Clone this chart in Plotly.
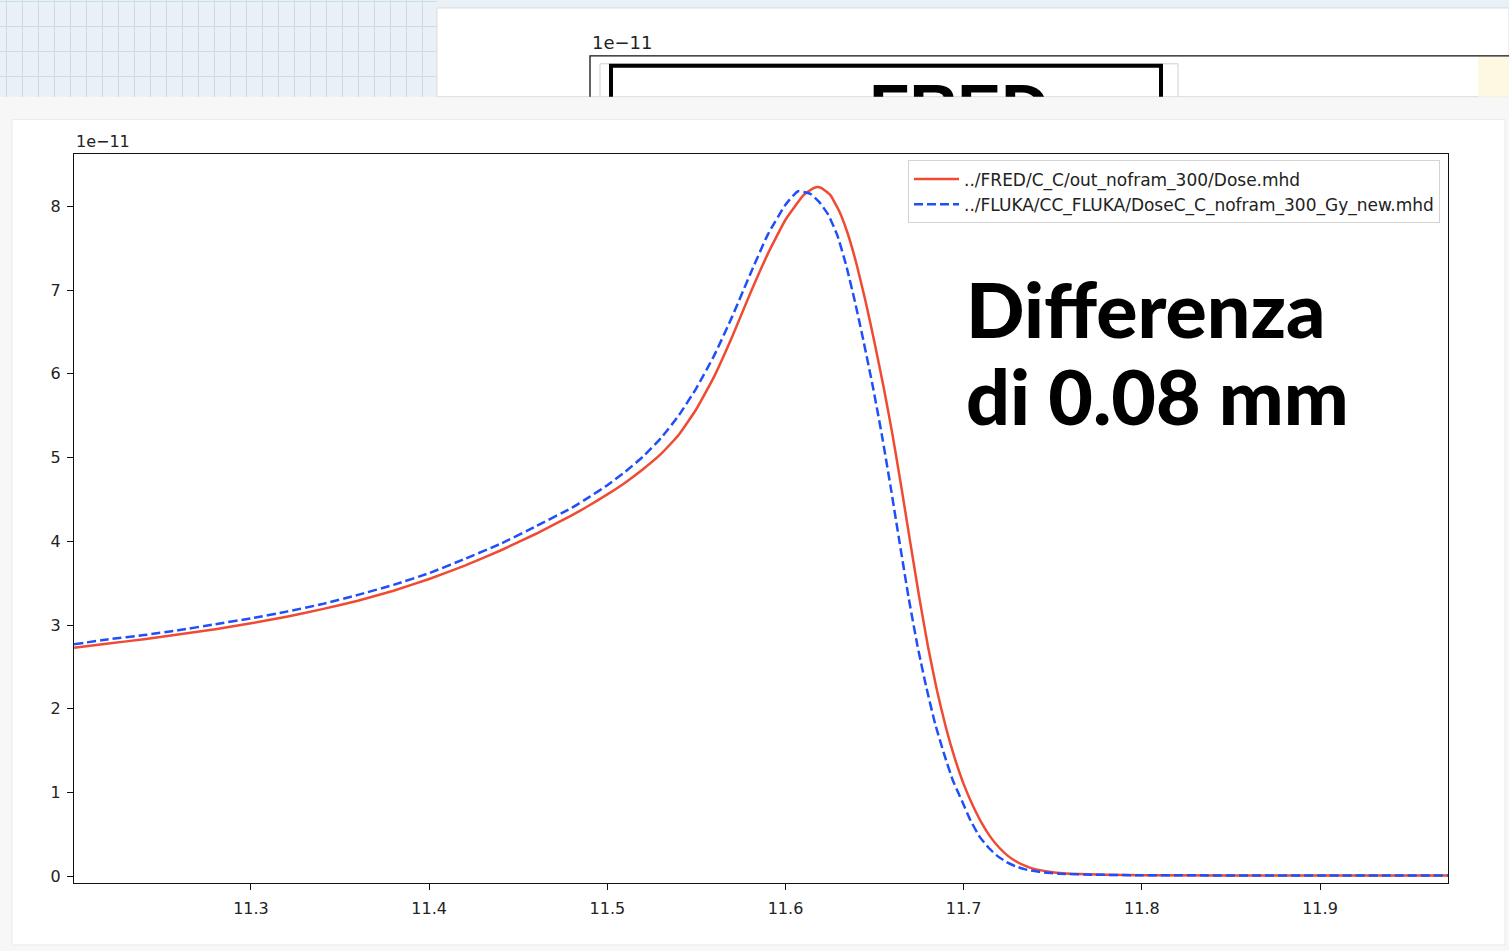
import plotly.graph_objects as go

W, H = 1509, 951

# ---------------- data ----------------
x_fred = [11.2007, 11.22, 11.24, 11.26, 11.28, 11.30, 11.32, 11.34, 11.36, 11.38,
          11.40, 11.42, 11.44, 11.46, 11.48,
          11.49, 11.50, 11.51, 11.52, 11.53, 11.54, 11.55, 11.56, 11.57, 11.58,
          11.59, 11.60, 11.61,
          11.615, 11.618, 11.62,
          11.625, 11.63, 11.635, 11.64, 11.645, 11.65, 11.655, 11.66, 11.665, 11.67,
          11.675, 11.68, 11.685, 11.69, 11.695, 11.70, 11.705, 11.71, 11.715, 11.72,
          11.725, 11.73, 11.735, 11.74,
          11.75, 11.76, 11.78, 11.80, 11.90, 11.9718]
y_fred = [2.73, 2.78, 2.83, 2.89, 2.95, 3.02, 3.10, 3.19, 3.29, 3.41,
          3.55, 3.71, 3.89, 4.09, 4.31,
          4.43, 4.56, 4.70, 4.86, 5.04, 5.27, 5.58, 5.97, 6.44, 6.95,
          7.43, 7.84, 8.13,
          8.21, 8.23, 8.22,
          8.14, 7.95, 7.67, 7.30, 6.86, 6.37, 5.85, 5.28, 4.65, 3.99,
          3.34, 2.74, 2.22, 1.78, 1.41, 1.10, 0.85, 0.64, 0.47, 0.34,
          0.24, 0.17, 0.12, 0.085,
          0.048, 0.030, 0.018, 0.012, 0.008, 0.008]

x_fluka = [11.2007, 11.22, 11.24, 11.26, 11.28, 11.30, 11.32, 11.34, 11.36, 11.38,
           11.40, 11.42, 11.44, 11.46, 11.48,
           11.49, 11.50, 11.51, 11.52, 11.53, 11.54, 11.55, 11.56, 11.57, 11.58,
           11.59, 11.60,
           11.607, 11.614, 11.619,
           11.624, 11.629, 11.634, 11.639, 11.644, 11.649, 11.654, 11.659, 11.664,
           11.669, 11.674, 11.679, 11.684, 11.689, 11.694, 11.699, 11.704, 11.709,
           11.714, 11.719, 11.724, 11.729, 11.734,
           11.744, 11.754, 11.774, 11.80, 11.90, 11.9718]
y_fluka = [2.77, 2.83, 2.88, 2.94, 3.01, 3.08, 3.16, 3.25, 3.36, 3.48,
           3.62, 3.79, 3.97, 4.18, 4.40,
           4.53, 4.67, 4.83, 5.01, 5.23, 5.50, 5.83, 6.22, 6.68, 7.18,
           7.66, 8.02,
           8.18, 8.15, 8.05,
           7.90, 7.66, 7.30, 6.86, 6.37, 5.85, 5.28, 4.65, 3.99,
           3.34, 2.76, 2.26, 1.82, 1.46, 1.14, 0.90, 0.66, 0.47,
           0.34, 0.24, 0.17, 0.12, 0.085,
           0.048, 0.030, 0.018, 0.012, 0.008, 0.008]

name_fred = "../FRED/C_C/out_nofram_300/Dose.mhd"
name_fluka = "../FLUKA/CC_FLUKA/DoseC_C_nofram_300_Gy_new.mhd"

x_ticks = [11.3, 11.4, 11.5, 11.6, 11.7, 11.8, 11.9]
x_ticklabels = ["11.3", "11.4", "11.5", "11.6", "11.7", "11.8", "11.9"]
y_ticks = [0, 1, 2, 3, 4, 5, 6, 7, 8]
y_ticklabels = ["0", "1", "2", "3", "4", "5", "6", "7", "8"]

x_range = [11.20066, 11.97184]
y_range = [-0.0833, 8.631]

RED = "#f04a32"
BLUE = "#1f4ffa"
FONT = "DejaVu Sans"
HAND = "Lato"


def px(x):
    return x / W


def py(y):
    return 1 - y / H


def rect(x0, y0, x1, y1, **kw):
    d = dict(type="rect", xref="paper", yref="paper",
             x0=px(x0), x1=px(x1), y0=py(y1), y1=py(y0), layer="below")
    d.update(kw)
    return d


fig = go.Figure()

fig.add_trace(go.Scatter(
    x=x_fred, y=y_fred, mode="lines", name=name_fred,
    line=dict(color=RED, width=2.5, shape="spline", smoothing=0.4),
    xaxis="x", yaxis="y"))
fig.add_trace(go.Scatter(
    x=x_fluka, y=y_fluka, mode="lines", name=name_fluka,
    line=dict(color=BLUE, width=2.5, dash="9px,4px", shape="spline", smoothing=0.4),
    xaxis="x", yaxis="y"))

# clipped "FRED" heading of the slide behind (top strip)
fig.add_trace(go.Scatter(
    x=[959], y=[115], mode="text", text=["FRED"], showlegend=False,
    textfont=dict(family="Liberation Sans", size=66, color="black", weight="bold"),
    textposition="middle center", cliponaxis=True, hoverinfo="skip",
    xaxis="x3", yaxis="y3"))

shapes = [
    rect(0, 0, W, 97, fillcolor="#eaf1f6", line=dict(width=0)),
    rect(437, 8, W, 97, fillcolor="white", line=dict(color="#dcdcdc", width=1)),
    rect(12, 120, 1505, 948, fillcolor="white", line=dict(color="#e9e9e9", width=1)),
]


def rect3(x0, y0, x1, y1, **kw):
    d = dict(type="rect", xref="x3", yref="y3", x0=x0, x1=x1, y0=y0, y1=y1, layer="above")
    d.update(kw)
    return d


shapes += [
    rect3(1478, 57, 1509, 140, fillcolor="#fdf8e2", line=dict(width=0)),
    rect3(590, 56, 1530, 140, line=dict(color="#111", width=1.3)),
    rect3(600, 64, 1178, 140, line=dict(color="#cfcfcf", width=1)),
    rect3(611, 66, 1161, 140, line=dict(color="black", width=4)),
]

annotations = [
    dict(text="1e\u221211", xref="paper", yref="paper", x=px(74), y=py(142),
         xanchor="left", yanchor="middle", showarrow=False,
         font=dict(family=FONT, size=16, color="#222")),
    dict(text="1e\u221211", xref="paper", yref="paper", x=px(590), y=py(43),
         xanchor="left", yanchor="middle", showarrow=False,
         font=dict(family=FONT, size=18, color="#222")),
    dict(text="Differenza", xref="paper", yref="paper", x=px(964), y=py(309),
         xanchor="left", yanchor="middle", showarrow=False,
         font=dict(family=HAND, size=77, color="black", weight=900)),
    dict(text="di 0.08 mm", xref="paper", yref="paper", x=px(964), y=py(396),
         xanchor="left", yanchor="middle", showarrow=False,
         font=dict(family=HAND, size=77, color="black", weight=900)),
]

axis_common = dict(showgrid=False, zeroline=False, showline=True, linecolor="#111",
                   linewidth=1.3, mirror=True, ticks="outside", ticklen=6, tickwidth=1.2,
                   tickcolor="#111", tickfont=dict(family=FONT, size=16, color="#222"))

fig.update_layout(
    width=W, height=H,
    margin=dict(l=0, r=0, t=0, b=0),
    paper_bgcolor="#f7f7f7",
    plot_bgcolor="rgba(0,0,0,0)",
    showlegend=True,
    legend=dict(x=px(1440), y=py(161), xanchor="right", yanchor="top",
                bgcolor="white", bordercolor="#d3d3d3", borderwidth=1,
                font=dict(family=FONT, size=17, color="#222"),
                itemwidth=45, tracegroupgap=0),
    xaxis=dict(domain=[px(74), px(1448)], range=x_range, anchor="y",
               tickmode="array", tickvals=x_ticks, ticktext=x_ticklabels,
               ticklabelstandoff=4, **axis_common),
    yaxis=dict(domain=[py(886), py(154)], range=y_range, anchor="x",
               tickmode="array", tickvals=y_ticks, ticktext=y_ticklabels,
               ticklabelstandoff=3, **axis_common),
    xaxis2=dict(domain=[0, px(437)], range=[0, 437], anchor="y2", showgrid=True,
                gridcolor="#c9dcea", gridwidth=1, dtick=16, tick0=6, showticklabels=False,
                zeroline=False, showline=False, ticks=""),
    yaxis2=dict(domain=[py(97), 1], range=[97, 0], anchor="x2", showgrid=True,
                gridcolor="#c9dcea", gridwidth=1, dtick=25, tick0=2, showticklabels=False,
                zeroline=False, showline=False, ticks=""),
    xaxis3=dict(domain=[px(437), 1], range=[437, W], anchor="y3", visible=False),
    yaxis3=dict(domain=[py(97), 1], range=[97, 0], anchor="x3", visible=False),
    shapes=shapes,
    annotations=annotations,
)

# invisible marker so that the grid-paper subplot x2/y2 exists
fig.add_trace(go.Scatter(x=[0], y=[0], mode="markers", marker=dict(opacity=0),
                         showlegend=False, hoverinfo="skip", xaxis="x2", yaxis="y2"))

fig.write_html("out.html")
